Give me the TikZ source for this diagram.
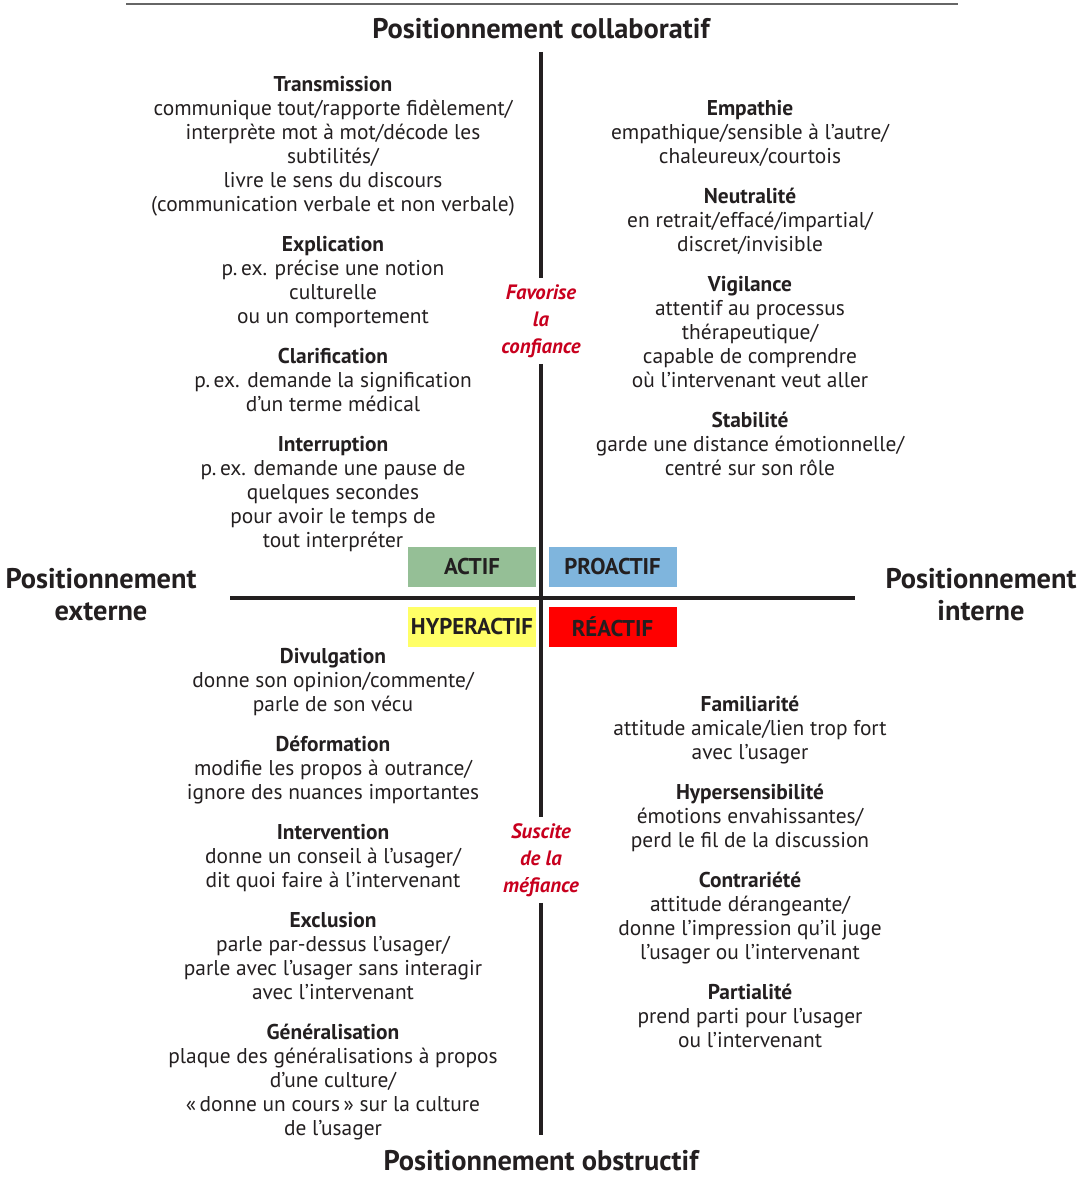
\documentclass[tikz,border=0pt]{standalone}
\usepackage{fontspec}
\setmainfont{PT Sans}
\usepackage{xcolor}
\definecolor{axisgray}{HTML}{231F20}
\definecolor{actifgreen}{HTML}{95BF96}
\definecolor{problue}{HTML}{7FB5DD}
\definecolor{hyperyellow}{HTML}{FFFF66}
\definecolor{reacred}{HTML}{FF0000}
\definecolor{notered}{HTML}{C8001E}

\begin{document}
\begin{tikzpicture}[x=0.5pt, y=-0.5pt, axis/.style = {draw=axisgray, line width=1.8pt},
    item/.style = {align=center, anchor=north, inner sep=0pt, text=axisgray, font=\fontsize{10.7}{12}\selectfont},
    head/.style = {font=\bfseries\fontsize{14.2}{16}\selectfont, text=axisgray, inner sep=0pt, align=center},
    note/.style = {text=notered, align=center, inner sep=3pt, font=\bfseries\itshape\fontsize{10.4}{13.5}\selectfont},
    tag/.style = {minimum width=64pt, minimum height=20pt, inner sep=0pt, text=axisgray, font=\bfseries\fontsize{11.4}{12}\selectfont}]
    \useasboundingbox (0,0) rectangle (1088,1182);
    \draw[gray!80!black, line width=1pt] (126,4) -- (958,4);

    % axis headings
    \node[head] (top) at (541,29) {Positionnement collaboratif};
    \node[head] (bottom) at (541,1161) {Positionnement obstructif};
    \node[head] (left) at (101,595) {Positionnement\\externe};
    \node[head] (right) at (981,595) {Positionnement\\interne};

    % notes on the vertical axis
    \node[note] (fav) at (541,321) {Favorise\\la\\confiance};
    \node[note] (sus) at (541,860) {Suscite\\de la\\méfiance};

    % axes
    \coordinate (n) at (541,52);
    \coordinate (s) at (541,1135);
    \coordinate (w) at (230,598);
    \coordinate (e) at (855,598);
    \draw[axis] (n) -- (fav.north);
    \draw[axis] (fav.south) -- (sus.north);
    \draw[axis] (sus.south) -- (s);
    \draw[axis] (w) -- (e);

    % quadrant tags
    \node[tag, fill=actifgreen] (actif) at (472,567) {ACTIF};
    \node[tag, fill=problue] (proactif) at (612.5,567) {PROACTIF};
    \node[tag, fill=hyperyellow] (hyperactif) at (472,627) {HYPERACTIF};
    \node[tag, fill=reacred] (reactif) at (612.5,627) {RÉACTIF};

    % upper left
    \node[item] (1) at (333,76) {\textbf{Transmission}\\communique tout/rapporte fidèlement/\\interprète mot à mot/décode les\\subtilités/\\livre le sens du discours\\(communication verbale et non verbale)};
    \node[item] (2) at (333,236) {\textbf{Explication}\\p.\,ex. précise une notion\\culturelle\\ou un comportement};
    \node[item] (3) at (333,348) {\textbf{Clarification}\\p.\,ex. demande la signification\\d’un terme médical};
    \node[item] (4) at (333,436) {\textbf{Interruption}\\p.\,ex. demande une pause de\\quelques secondes\\pour avoir le temps de\\tout interpréter};

    % upper right
    \node[item] (5) at (750,100) {\textbf{Empathie}\\empathique/sensible à l’autre/\\chaleureux/courtois};
    \node[item] (6) at (750,188) {\textbf{Neutralité}\\en retrait/effacé/impartial/\\discret/invisible};
    \node[item] (7) at (750,276) {\textbf{Vigilance}\\attentif au processus\\thérapeutique/\\capable de comprendre\\où l’intervenant veut aller};
    \node[item] (8) at (750,412) {\textbf{Stabilité}\\garde une distance émotionnelle/\\centré sur son rôle};

    % lower left
    \node[item] (9) at (333,648) {\textbf{Divulgation}\\donne son opinion/commente/\\parle de son vécu};
    \node[item] (10) at (333,736) {\textbf{Déformation}\\modifie les propos à outrance/\\ignore des nuances importantes};
    \node[item] (11) at (333,824) {\textbf{Intervention}\\donne un conseil à l’usager/\\dit quoi faire à l’intervenant};
    \node[item] (12) at (333,912) {\textbf{Exclusion}\\parle par-dessus l’usager/\\parle avec l’usager sans interagir\\avec l’intervenant};
    \node[item] (13) at (333,1024) {\textbf{Généralisation}\\plaque des généralisations à propos\\d’une culture/\\«\,donne un cours\,» sur la culture\\de l’usager};

    % lower right
    \node[item] (14) at (750,696) {\textbf{Familiarité}\\attitude amicale/lien trop fort\\avec l’usager};
    \node[item] (15) at (750,784) {\textbf{Hypersensibilité}\\émotions envahissantes/\\perd le fil de la discussion};
    \node[item] (16) at (750,872) {\textbf{Contrariété}\\attitude dérangeante/\\donne l’impression qu’il juge\\l’usager ou l’intervenant};
    \node[item] (17) at (750,984) {\textbf{Partialité}\\prend parti pour l’usager\\ou l’intervenant};
\end{tikzpicture}
\end{document}
